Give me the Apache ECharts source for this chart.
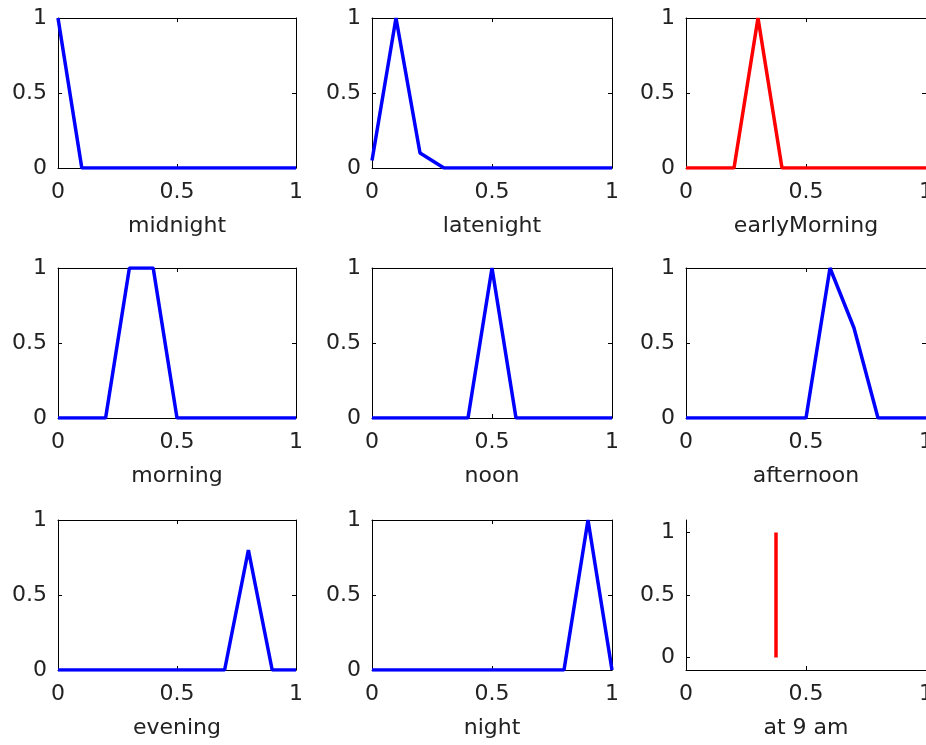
<!DOCTYPE html>
<html>
<head>
<meta charset="utf-8">
<script src="https://cdn.jsdelivr.net/npm/echarts@6/dist/echarts.min.js"></script>
<style>
  html, body { margin: 0; padding: 0; background: #fff; overflow: hidden; }
  #chart { width: 926px; height: 745px; }
</style>
</head>
<body>
<div id="chart"></div>
<script>
// Membership functions for the time-of-day fuzzy sets, sampled on a 0..1 grid
const xs = [0, 0.1, 0.2, 0.3, 0.4, 0.5, 0.6, 0.7, 0.8, 0.9, 1];

const midnight     = [1, 0, 0, 0, 0, 0, 0, 0, 0, 0, 0];
const latenight    = [0.05, 1, 0.1, 0, 0, 0, 0, 0, 0, 0, 0];
const earlyMorning = [0, 0, 0, 1, 0, 0, 0, 0, 0, 0, 0];
const morning      = [0, 0, 0, 1, 1, 0, 0, 0, 0, 0, 0];
const noon         = [0, 0, 0, 0, 0, 1, 0, 0, 0, 0, 0];
const afternoon    = [0, 0, 0, 0, 0, 0, 1, 0.6, 0, 0, 0];
const evening      = [0, 0, 0, 0, 0, 0, 0, 0, 0.8, 0, 0];
const night        = [0, 0, 0, 0, 0, 0, 0, 0, 0, 1, 0];

// Input marker: 9 am on the normalised day axis
const inputX = [0.375, 0.375];
const inputY = [0, 1];

const panelNames  = ['midnight', 'latenight', 'earlyMorning', 'morning', 'noon', 'afternoon', 'evening', 'night'];
const panelValues = [midnight, latenight, earlyMorning, morning, noon, afternoon, evening, night];
const panelColors = ['#0000ff', '#0000ff', '#ff0000', '#0000ff', '#0000ff', '#0000ff', '#0000ff', '#0000ff'];
const inputName = 'at 9 am';
const tickValues = [0, 0.5, 1];

const FONT = 'DejaVu Sans';
const TEXT = '#222';
const colLeft = [58, 372, 686];
const colWidth = [238, 240, 240];
const rowTop = [18, 268, 520];
const rowHeight = 150;

const grids = [], xAxes = [], yAxes = [], series = [];

const lineStyle = { color: '#000', width: 1 };
const labelStyle = { fontFamily: FONT, fontSize: 22, color: TEXT };

function addPanel(idx, opts) {
  const r = Math.floor(idx / 3), c = idx % 3;
  grids.push({
    left: colLeft[c], top: rowTop[r], width: colWidth[c], height: rowHeight,
    containLabel: false, outerBoundsMode: 'none'
  });
  const g = grids.length - 1;
  const xBase = {
    type: 'value', gridIndex: g, min: 0, max: 1, interval: 0.5, z: 3,
    splitLine: { show: false },
    axisLine: { show: true, onZero: false, lineStyle },
    axisTick: { show: true, inside: true, length: 4, lineStyle }
  };
  xAxes.push(Object.assign({}, xBase, {
    position: 'bottom',
    name: opts.name, nameLocation: 'middle', nameGap: 47,
    nameTextStyle: labelStyle,
    axisLabel: Object.assign({ margin: 13, showMinLabel: true, showMaxLabel: true }, labelStyle)
  }));
  const xi = xAxes.length - 1;
  if (opts.box) {
    xAxes.push(Object.assign({}, xBase, { position: 'top', axisLabel: { show: false } }));
  }
  const yBase = {
    type: 'value', gridIndex: g, z: 3,
    splitLine: { show: false },
    axisLine: { show: true, onZero: false, lineStyle },
    axisTick: { show: true, inside: true, length: 4, lineStyle }
  };
  let yi;
  if (opts.box) {
    yAxes.push(Object.assign({}, yBase, {
      position: 'left', min: 0, max: 1, interval: 0.5,
      axisLabel: Object.assign({ margin: 11, showMinLabel: true, showMaxLabel: true }, labelStyle)
    }));
    yi = yAxes.length - 1;
    yAxes.push(Object.assign({}, yBase, { position: 'right', min: 0, max: 1, interval: 0.5, axisLabel: { show: false } }));
  } else {
    yAxes.push(Object.assign({}, yBase, {
      position: 'left', min: -0.1, max: 1.1,
      axisTick: { show: true, inside: true, length: 4, lineStyle, customValues: tickValues },
      axisLabel: Object.assign({ margin: 11, customValues: tickValues }, labelStyle)
    }));
    yi = yAxes.length - 1;
  }
  series.push({
    type: 'line', xAxisIndex: xi, yAxisIndex: yi, symbol: 'none', clip: true,
    lineStyle: { color: opts.color, width: 3.5 },
    data: opts.x.map((x, i) => [x, opts.y[i]])
  });
}

panelNames.forEach((name, i) => {
  addPanel(i, { name, x: xs, y: panelValues[i], color: panelColors[i], box: true });
});
addPanel(8, { name: inputName, x: inputX, y: inputY, color: '#ff0000', box: false });

const chart = echarts.init(document.getElementById('chart'), null, { renderer: 'canvas' });
chart.setOption({
  animation: false,
  backgroundColor: '#ffffff',
  grid: grids,
  xAxis: xAxes,
  yAxis: yAxes,
  series
});
</script>
</body>
</html>
